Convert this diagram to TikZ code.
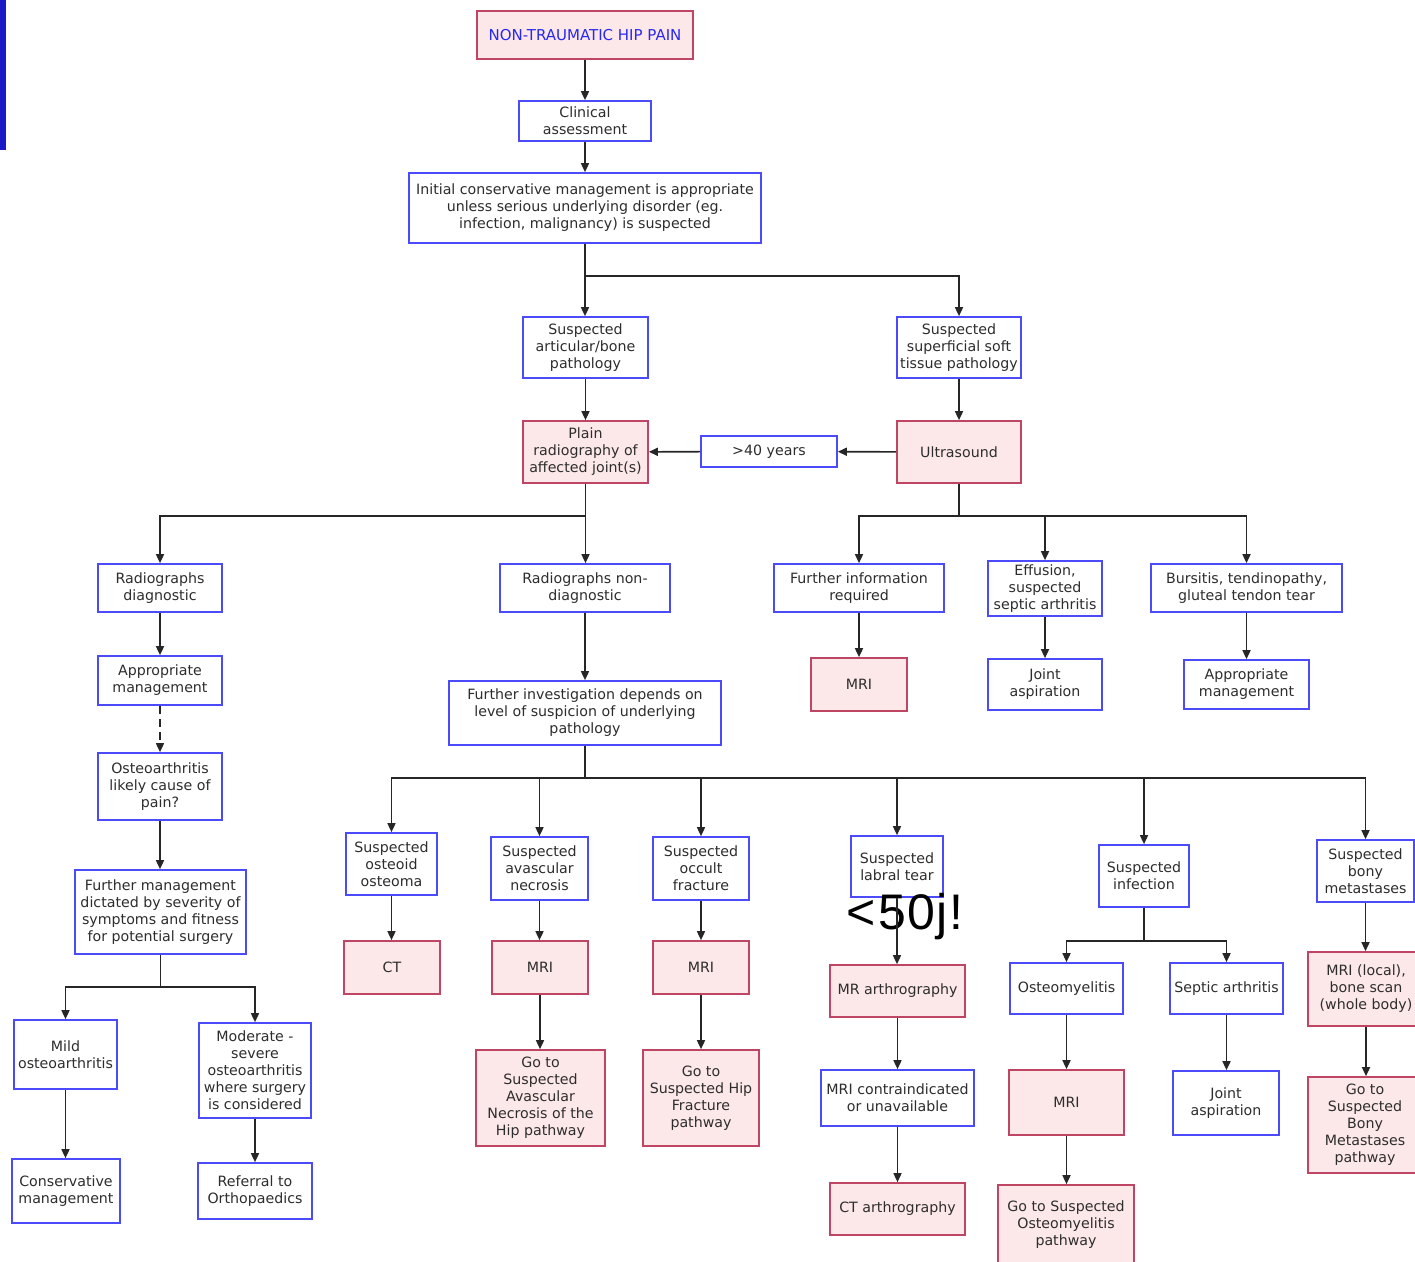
\documentclass[tikz,border=0pt]{standalone}
\usepackage{fontspec}
\setmainfont{DejaVu Sans}
\newfontfamily\bigfont{Liberation Sans}
\usetikzlibrary{arrows.meta}
\definecolor{bbord}{RGB}{75,75,250}
\definecolor{rbord}{RGB}{190,70,100}
\definecolor{pfill}{RGB}{253,232,233}
\definecolor{txt}{RGB}{45,45,45}
\definecolor{ttl}{RGB}{40,40,240}
\definecolor{barblue}{RGB}{25,25,200}
\newcommand{\bxn}[7]{\node[#1, minimum width={#5-#3}, minimum height={#6-#4}] (#2) at ({(#3+#5)/2},{(#4+#6)/2}) {#7};}
\newcommand{\vdn}[2]{\draw[arr] (#1.south) -- (#1.south |- #2.north);}
\begin{document}
\begin{tikzpicture}[x=1pt,y=-1pt,
 base/.style={rectangle, inner sep=0.5pt, align=center, text=txt, font=\fontsize{14.2}{17}\selectfont, line width=1.7pt},
 bb/.style={base, draw=bbord, fill=white},
 rb/.style={base, draw=rbord, fill=pfill},
 arr/.style={draw=black!85, line width=1.6pt, -{Triangle[length=9pt,width=8pt]}},
]
\useasboundingbox (0,0) rectangle (1415,1261);
\clip (0,0) rectangle (1415,1261);
\fill[white] (0,0) rectangle (1415,1261);
\fill[barblue] (0,0) rectangle (6,150);

\bxn{rb, text=ttl, font=\fontsize{15}{17}\selectfont}{title}{477}{11}{693}{59}{NON-TRAUMATIC HIP PAIN}
\bxn{bb}{clin}{519}{101}{651}{141}{Clinical\\assessment}
\bxn{bb}{init}{409}{173}{761}{243}{Initial conservative management is appropriate\\unless serious underlying disorder (eg.\\infection, malignancy) is suspected}
\bxn{bb}{art}{523}{317}{648}{378}{Suspected\\articular/bone\\pathology}
\bxn{bb}{sup}{897}{317}{1021}{378}{Suspected\\superficial soft\\tissue pathology}
\bxn{rb}{plain}{523}{421}{648}{483}{Plain\\radiography of\\affected joint(s)}
\bxn{bb}{forty}{701}{436}{837}{467}{>40 years}
\bxn{rb}{us}{897}{421}{1021}{483}{Ultrasound}
\bxn{bb}{rdiag}{98}{564}{222}{612}{Radiographs\\diagnostic}
\bxn{bb}{rnon}{500}{564}{670}{612}{Radiographs non-\\diagnostic}
\bxn{bb}{finfo}{774}{564}{944}{612}{Further information\\required}
\bxn{bb}{eff}{988}{561}{1102}{616}{Effusion,\\suspected\\septic arthritis}
\bxn{bb}{burs}{1151}{564}{1342}{612}{Bursitis, tendinopathy,\\gluteal tendon tear}
\bxn{bb}{appl}{98}{656}{222}{705}{Appropriate\\management}
\bxn{rb}{mri1}{811}{658}{907}{711}{MRI}
\bxn{bb}{jasp1}{988}{659}{1102}{710}{Joint\\aspiration}
\bxn{bb}{appr}{1184}{660}{1309}{709}{Appropriate\\management}
\bxn{bb}{finv}{449}{681}{721}{745}{Further investigation depends on\\level of suspicion of underlying\\pathology}
\bxn{bb}{oa}{98}{753}{222}{820}{Osteoarthritis\\likely cause of\\pain?}
\bxn{bb}{fmgmt}{75}{870}{246}{954}{Further management\\dictated by severity of\\symptoms and fitness\\for potential surgery}
\bxn{bb}{mild}{14}{1020}{117}{1089}{Mild\\osteoarthritis}
\bxn{bb}{mod}{199}{1023}{311}{1118}{Moderate -\\severe\\osteoarthritis\\where surgery\\is considered}
\bxn{bb}{cons}{12}{1159}{120}{1223}{Conservative\\management}
\bxn{bb}{ref}{198}{1163}{312}{1219}{Referral to\\Orthopaedics}
\bxn{bb}{ost}{346}{833}{437}{895}{Suspected\\osteoid\\osteoma}
\bxn{rb}{ct}{344}{941}{440}{994}{CT}
\bxn{bb}{avn}{491}{837}{588}{900}{Suspected\\avascular\\necrosis}
\bxn{rb}{mri2}{492}{941}{588}{994}{MRI}
\bxn{rb}{goavn}{476}{1050}{605}{1146}{Go to\\Suspected\\Avascular\\Necrosis of the\\Hip pathway}
\bxn{bb}{occ}{653}{837}{749}{900}{Suspected\\occult\\fracture}
\bxn{rb}{mri3}{653}{941}{749}{994}{MRI}
\bxn{rb}{gofx}{643}{1050}{759}{1146}{Go to\\Suspected Hip\\Fracture\\pathway}
\bxn{bb}{lab}{851}{836}{943}{897}{Suspected\\labral tear}
\bxn{rb}{mra}{830}{965}{965}{1017}{MR arthrography}
\bxn{bb}{mrici}{821}{1070}{974}{1126}{MRI contraindicated\\or unavailable}
\bxn{rb}{cta}{830}{1183}{965}{1235}{CT arthrography}
\bxn{bb}{inf}{1099}{845}{1189}{907}{Suspected\\infection}
\bxn{bb}{osm}{1010}{963}{1123}{1014}{Osteomyelitis}
\bxn{bb}{sep}{1170}{963}{1283}{1014}{Septic arthritis}
\bxn{rb}{mri4}{1009}{1070}{1124}{1135}{MRI}
\bxn{rb}{goosm}{998}{1185}{1134}{1264}{Go to Suspected\\Osteomyelitis\\pathway}
\bxn{bb}{jasp2}{1173}{1071}{1279}{1135}{Joint\\aspiration}
\bxn{bb}{bony}{1317}{840}{1414}{902}{Suspected\\bony\\metastases}
\bxn{rb}{mril}{1308}{952}{1424}{1026}{MRI (local),\\bone scan\\(whole body)}
\bxn{rb}{gobm}{1308}{1077}{1422}{1173}{Go to\\Suspected\\Bony\\Metastases\\pathway}

\node[font=\bigfont\fontsize{50}{50}\selectfont, anchor=base west, inner sep=0pt, text=black] (lbl) at (846,929) {<\kern3pt 5\kern1pt 0\kern1pt j\kern2pt !};

\vdn{title}{clin}
\vdn{clin}{init}
\vdn{init}{art}
\draw[arr] (init.south) -- ++(0,32) -| (sup.north);
\vdn{art}{plain}
\vdn{sup}{us}
\draw[arr] (us) -- (forty);
\draw[arr] (forty) -- (plain);
\draw[arr] (plain.south) -- ++(0,32) -| (rdiag.north);
\vdn{plain}{rnon}
\draw[arr] (us.south) -- ++(0,32) -| (finfo.north);
\draw[arr] (us.south) -- ++(0,32) -| (eff.north);
\draw[arr] (us.south) -- ++(0,32) -| (burs.north);
\vdn{finfo}{mri1}
\vdn{eff}{jasp1}
\vdn{burs}{appr}
\vdn{rdiag}{appl}
\draw[arr, dash pattern=on 8pt off 5pt] (appl.south) -- (appl.south |- oa.north);
\vdn{oa}{fmgmt}
\draw[arr] (fmgmt.south) -- ++(0,32) -| (mild.north);
\draw[arr] (fmgmt.south) -- ++(0,32) -| (mod.north);
\vdn{mild}{cons}
\vdn{mod}{ref}
\vdn{rnon}{finv}
\draw[arr] (finv.south) -- ++(0,32) -| (ost.north);
\draw[arr] (finv.south) -- ++(0,32) -| (avn.north);
\draw[arr] (finv.south) -- ++(0,32) -| (occ.north);
\draw[arr] (finv.south) -- ++(0,32) -| (lab.north);
\draw[arr] (finv.south) -- ++(0,32) -| (inf.north);
\draw[arr] (finv.south) -- ++(0,32) -| (bony.north);
\vdn{ost}{ct}
\vdn{avn}{mri2}
\vdn{mri2}{goavn}
\vdn{occ}{mri3}
\vdn{mri3}{gofx}
\vdn{lab}{mra}
\vdn{mra}{mrici}
\vdn{mrici}{cta}
\draw[arr] (inf.south) -- ++(0,33) -| (osm.north);
\draw[arr] (inf.south) -- ++(0,33) -| (sep.north);
\vdn{osm}{mri4}
\vdn{mri4}{goosm}
\vdn{sep}{jasp2}
\vdn{bony}{mril}
\vdn{mril}{gobm}
\end{tikzpicture}
\end{document}
